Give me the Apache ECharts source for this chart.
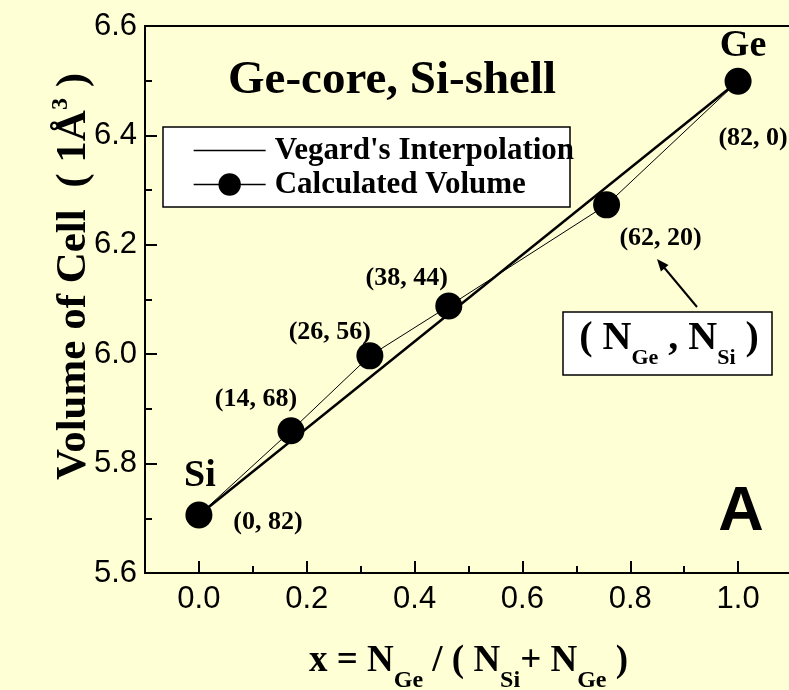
<!DOCTYPE html>
<html>
<head>
<meta charset="utf-8">
<script src="https://cdn.jsdelivr.net/npm/echarts@6/dist/echarts.min.js"></script>
<style>
  html, body { margin: 0; padding: 0; background: #FFFFD5; }
  #chart { width: 789px; height: 690px; }
</style>
</head>
<body>
<div id="chart"></div>
<script>
// Atom counts of each Ge-core / Si-shell cluster
const nGe = [0, 14, 26, 38, 62, 82];
const nSi = [82, 68, 56, 44, 20, 0];
// Calculated cell volume (Å^3) for each cluster
const cellVolume = [5.706, 5.860, 5.997, 6.088, 6.273, 6.499];
// Vegard's law: straight line between pure Si and pure Ge
const vegardX = [0, 1];
const vegardVolume = [5.706, 6.499];
const endLabels = ['Si', 'Ge'];
const xTicks = ['0.0', '0.2', '0.4', '0.6', '0.8', '1.0'];
const yTicks = ['5.6', '5.8', '6.0', '6.2', '6.4', '6.6'];

// label placement relative to each marker (pixels)
const countLabelOffsets = [[69, 7], [-35, -31], [-40, -24], [-42, -28], [54, 33], [15, 57]];
const endLabelOffsets = [[1, -39], [5, -35]];

const SERIF = 'Liberation Serif';
const SANS = 'Liberation Sans';
const VEG = "Vegard's Interpolation";
const CALC = 'Calculated Volume';

const calcData = nGe.map((g, i) => ({
  value: [g / (g + nSi[i]), cellVolume[i]],
  label: { offset: countLabelOffsets[i], formatter: '(' + g + ', ' + nSi[i] + ')' }
}));
const vegData = vegardX.map((x, i) => ({
  value: [x, vegardVolume[i]],
  label: { offset: endLabelOffsets[i], formatter: endLabels[i] }
}));

const chart = echarts.init(document.getElementById('chart'), null, { renderer: 'canvas' });

const subPad = 13;
chart.setOption({
  animation: false,
  backgroundColor: '#FFFFD5',
  title: {
    text: 'Ge-core, Si-shell',
    left: 228, top: 57, padding: 0,
    textStyle: { fontFamily: SERIF, fontWeight: 'bold', fontSize: 47, color: '#000' }
  },
  grid: {
    left: 145, top: 26, right: -3, bottom: 117,
    containLabel: false, outerBoundsMode: 'none',
    show: true, borderColor: '#000', borderWidth: 2, backgroundColor: 'transparent'
  },
  legend: {
    orient: 'vertical', left: 193, top: 135, padding: 0, itemGap: 3,
    itemWidth: 72, itemHeight: 28, selectedMode: false,
    data: [{ name: VEG }, { name: CALC }],
    lineStyle: { width: 1.3 },
    textStyle: { fontFamily: SERIF, fontWeight: 'bold', fontSize: 31, color: '#000', lineHeight: 30, padding: [0, 0, 0, 4] }
  },
  xAxis: {
    type: 'value', min: -0.1, max: 1.1,
    axisLine: { onZero: false, lineStyle: { color: '#000', width: 2 } },
    axisTick: { inside: true, length: 12, lineStyle: { color: '#000', width: 2 } },
    minorTick: { show: true, splitNumber: 2, length: 7, lineStyle: { color: '#000', width: 2 } },
    splitLine: { show: false },
    axisLabel: {
      showMinLabel: false, showMaxLabel: false, margin: 11,
      fontFamily: SANS, fontSize: 31, color: '#000',
      formatter: v => xTicks.find(t => Math.abs(parseFloat(t) - v) < 1e-6) || ''
    },
    name: '{m|x = N}{s|Ge}{m| / ( N}{s|Si}{m|+ N}{s|Ge}{m| )}',
    nameLocation: 'middle', nameGap: 70, nameMoveOverlap: false,
    nameTextStyle: {
      rich: {
        m: { fontFamily: SERIF, fontWeight: 'bold', fontSize: 37, color: '#000', verticalAlign: 'bottom', padding: [0, 0, subPad, 0] },
        s: { fontFamily: SERIF, fontWeight: 'bold', fontSize: 24, color: '#000', verticalAlign: 'bottom' }
      }
    }
  },
  yAxis: {
    type: 'value', min: 5.6, max: 6.6, interval: 0.2,
    axisLine: { onZero: false, lineStyle: { color: '#000', width: 2 } },
    axisTick: { inside: true, length: 12, lineStyle: { color: '#000', width: 2 } },
    minorTick: { show: true, splitNumber: 2, length: 7, lineStyle: { color: '#000', width: 2 } },
    splitLine: { show: false },
    axisLabel: {
      margin: 8, fontFamily: SANS, fontSize: 31, color: '#000',
      formatter: v => yTicks.find(t => Math.abs(parseFloat(t) - v) < 1e-6) || ''
    },
    name: '{m|Volume of Cell  ( 1Å}{p|3}{m| )}',
    nameLocation: 'middle', nameGap: 50, nameRotate: 90, nameMoveOverlap: false,
    nameTextStyle: {
      padding: [0, 0, 0, 46],
      rich: {
        m: { fontFamily: SERIF, fontWeight: 'bold', fontSize: 43, color: '#000', verticalAlign: 'bottom' },
        p: { fontFamily: SERIF, fontWeight: 'bold', fontSize: 24, color: '#000', verticalAlign: 'bottom', padding: [0, 0, 22, 0] }
      }
    }
  },
  graphic: [
    { type: 'rect', z: 1, shape: { x: 163, y: 127, width: 407, height: 80 },
      style: { fill: '#fff', stroke: '#000', lineWidth: 1.5 } },
    { type: 'rect', z: 1, shape: { x: 563, y: 312, width: 209, height: 63 },
      style: { fill: '#fff', stroke: '#000', lineWidth: 1.5 } },
    { type: 'text', z: 5, x: 669, y: 344,
      style: {
        text: '{m|( N}{s|Ge}{m| , N}{s|Si}{m| )}',
        align: 'center', verticalAlign: 'middle',
        rich: {
          m: { fontFamily: SERIF, fontWeight: 'bold', fontSize: 40, fill: '#000', verticalAlign: 'bottom', padding: [0, 0, 10, 0] },
          s: { fontFamily: SERIF, fontWeight: 'bold', fontSize: 22, fill: '#000', verticalAlign: 'bottom' }
        }
      } },
    { type: 'line', z: 5, shape: { x1: 697, y1: 307, x2: 662, y2: 265 },
      style: { stroke: '#000', lineWidth: 2 } },
    { type: 'polygon', z: 5, shape: { points: [[657, 259], [668.5, 265], [660.9, 271.4]] },
      style: { fill: '#000' } },
    { type: 'text', z: 5, x: 741, y: 513,
      style: { text: 'A', align: 'center', verticalAlign: 'middle',
        font: 'bold 63px "Liberation Sans"', fill: '#000' } }
  ],
  series: [
    {
      name: VEG, type: 'line', data: vegData,
      symbol: 'circle', symbolSize: 1, showSymbol: true,
      itemStyle: { color: 'rgba(0,0,0,0)' },
      lineStyle: { color: '#000', width: 2.5 },
      label: { show: true, position: 'inside', color: '#000', fontFamily: SERIF, fontWeight: 'bold', fontSize: 38 },
      emphasis: { disabled: true },
      z: 2
    },
    {
      name: CALC, type: 'line', data: calcData,
      symbol: 'circle', symbolSize: 27,
      itemStyle: { color: '#000' },
      lineStyle: { color: '#000', width: 1 },
      label: { show: true, position: 'inside', color: '#000', fontFamily: SERIF, fontWeight: 'bold', fontSize: 26 },
      emphasis: { disabled: true },
      z: 3
    }
  ]
});
</script>
</body>
</html>
